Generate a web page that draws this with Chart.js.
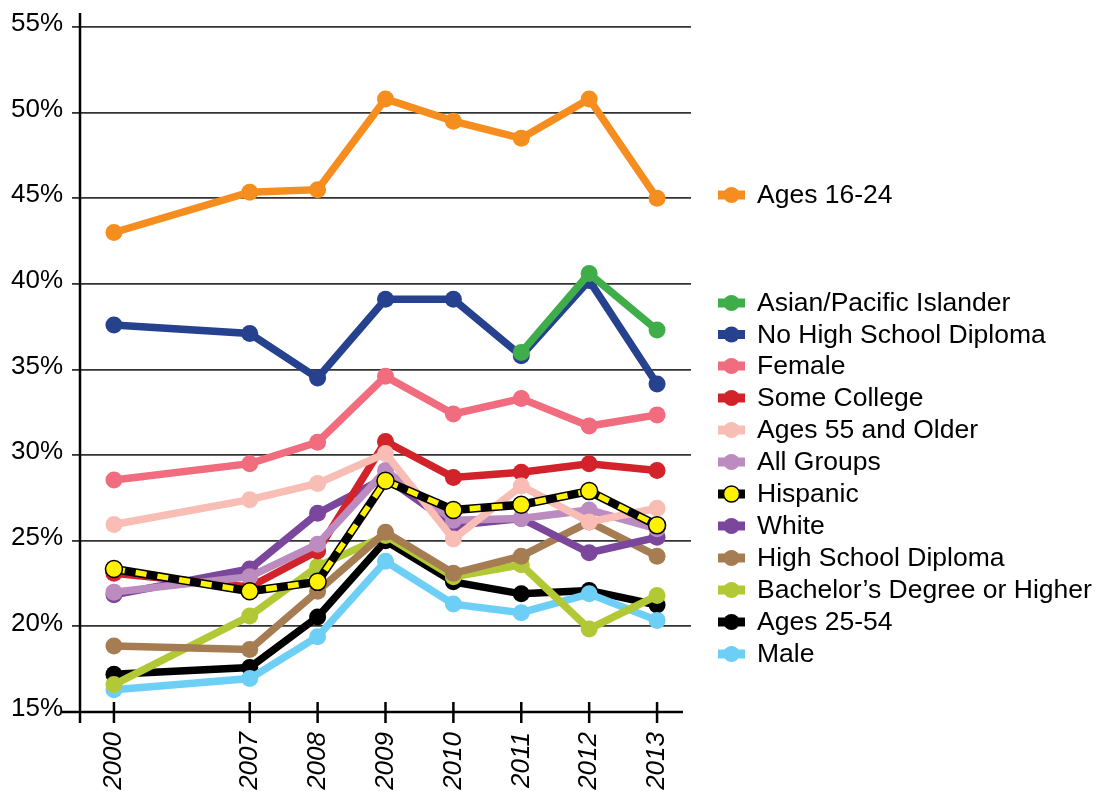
<!DOCTYPE html>
<html><head><meta charset="utf-8">
<script src="https://cdn.jsdelivr.net/npm/chart.js@4.4.1/dist/chart.umd.min.js"></script>
<style>html,body{margin:0;padding:0;background:#fff;overflow:hidden}#wrap{width:1097px;height:791px;position:relative}</style>
</head><body><div id="wrap"><canvas id="c" width="1097" height="791"></canvas></div>
<script>
// Categories (empty slot marks the gap between 2000 and 2007)
const years = ['2000', '', '2007', '2008', '2009', '2010', '2011', '2012', '2013'];
const yTickValues = [15, 20, 25, 30, 35, 40, 45, 50, 55];

// Series values (%)
const ages1624    = [43.0,  null, 45.35, 45.5,  50.8, 49.5, 48.5, 50.8, 45.0];
const asianPI     = [null,  null, null,  null,  null, null, 36.0, 40.6, 37.3];
const noHSDiploma = [37.6,  null, 37.1,  34.5,  39.1, 39.1, 35.8, 40.2, 34.15];
const female      = [28.55, null, 29.5,  30.75, 34.6, 32.4, 33.3, 31.7, 32.35];
const someCollege = [23.1,  null, 22.3,  24.4,  30.8, 28.7, 29.0, 29.5, 29.1];
const ages55      = [25.95, null, 27.4,  28.35, 30.1, 25.1, 28.2, 26.1, 26.9];
const allGroups   = [22.0,  null, 22.9,  24.8,  29.1, 26.2, 26.3, 26.8, 25.7];
const hispanic    = [23.35, null, 22.05, 22.6,  28.5, 26.8, 27.1, 27.9, 25.9];
const white       = [21.85, null, 23.35, 26.6,  28.7, 25.9, 26.3, 24.3, 25.2];
const hsDiploma   = [18.85, null, 18.65, 22.05, 25.5, 23.1, 24.1, 26.1, 24.1];
const bachelors   = [16.6,  null, 20.6,  23.5,  25.3, 22.9, 23.6, 19.85, 21.8];
const ages2554    = [17.2,  null, 17.6,  20.55, 25.0, 22.6, 21.9, 22.1, 21.25];
const male        = [16.3,  null, 16.95, 19.4,  23.8, 21.3, 20.8, 21.9, 20.35];

const seriesNames = ['Ages 16-24', 'Asian/Pacific Islander', 'No High School Diploma', 'Female',
  'Some College', 'Ages 55 and Older', 'All Groups', 'Hispanic', 'White', 'High School Diploma',
  'Bachelor\u2019s Degree or Higher', 'Ages 25-54', 'Male'];
const seriesData = [ages1624, asianPI, noHSDiploma, female, someCollege, ages55, allGroups,
  hispanic, white, hsDiploma, bachelors, ages2554, male];
const seriesColors = ['#F68E1F', '#3FAE4A', '#26418E', '#F06C7E', '#D2232A', '#F8BDB5', '#BC8BC0',
  '#FFF200', '#7A479C', '#A67C52', '#B3C835', '#000000', '#6DCFF6'];
// drawing order (lower = on top)
const seriesOrder = [3, 2, 4, 5, 8, 6, 7, 1, 9, 10, 11, 13, 12];

const FONT = "'Liberation Sans', Arial, sans-serif";

const datasets = [];
seriesNames.forEach((name, i) => {
  if (name === 'Hispanic') {
    datasets.push({
      label: 'Hispanic base', data: seriesData[i], borderColor: '#000', backgroundColor: '#000',
      borderWidth: 8.5, pointRadius: 0, pointHoverRadius: 0, spanGaps: true, order: 1.5, tension: 0
    });
    datasets.push({
      label: name, data: seriesData[i], borderColor: seriesColors[i], backgroundColor: seriesColors[i],
      borderWidth: 5.5, borderDash: [11, 11], pointRadius: 8.5, pointHoverRadius: 8.5,
      pointBackgroundColor: seriesColors[i], pointBorderColor: '#000', pointBorderWidth: 1.5,
      spanGaps: true, order: seriesOrder[i], tension: 0
    });
  } else {
    datasets.push({
      label: name, data: seriesData[i], borderColor: seriesColors[i], backgroundColor: seriesColors[i],
      borderWidth: 7.5, pointRadius: 8.5, pointHoverRadius: 8.5, pointBorderWidth: 0,
      pointBackgroundColor: seriesColors[i], spanGaps: true, order: seriesOrder[i], tension: 0
    });
  }
});

const legendRowsY = [195, 303, 334.5, 366, 398, 430, 462, 494, 526, 558, 590, 622, 654];

const decorPlugin = {
  id: 'decor',
  afterDraw(chart) {
    const { ctx, chartArea: ca, scales } = chart;
    const xs = scales.x;
    ctx.save();
    ctx.strokeStyle = '#000';
    ctx.lineWidth = 2.5;
    ctx.lineCap = 'butt';
    ctx.beginPath();
    ctx.moveTo(ca.left, ca.top - 14);
    ctx.lineTo(ca.left, ca.bottom + 11);
    ctx.moveTo(ca.left - 18, ca.bottom);
    ctx.lineTo(ca.right - 8, ca.bottom);
    years.forEach((lab, i) => {
      if (!lab) return;
      const px = xs.getPixelForTick(i);
      ctx.moveTo(px, ca.bottom - 10);
      ctx.lineTo(px, ca.bottom + 11);
    });
    ctx.stroke();

    // legend
    ctx.font = '26.5px ' + FONT;
    ctx.textBaseline = 'middle';
    ctx.textAlign = 'left';
    seriesNames.forEach((name, i) => {
      const y = legendRowsY[i];
      const col = seriesColors[i];
      const isHisp = name === 'Hispanic';
      ctx.strokeStyle = isHisp ? '#000' : col;
      ctx.lineWidth = 9;
      ctx.beginPath();
      ctx.moveTo(718, y);
      ctx.lineTo(745, y);
      ctx.stroke();
      ctx.beginPath();
      ctx.arc(731.5, y, 8, 0, Math.PI * 2);
      ctx.fillStyle = col;
      ctx.fill();
      if (isHisp) { ctx.lineWidth = 1.5; ctx.strokeStyle = '#000'; ctx.stroke(); }
      ctx.fillStyle = '#000';
      ctx.fillText(name, 757, y + 1);
    });
    ctx.restore();
  }
};

new Chart(document.getElementById('c'), {
  type: 'line',
  data: { labels: years, datasets },
  options: {
    responsive: false,
    animation: false,
    devicePixelRatio: 1,
    layout: { padding: { top: 27, right: 406, bottom: 0, left: 0 } },
    plugins: { legend: { display: false }, tooltip: { enabled: false } },
    scales: {
      x: {
        type: 'category',
        offset: true,
        grid: { display: false },
        border: { display: false },
        ticks: {
          autoSkip: false, maxRotation: 90, minRotation: 90, padding: 12,
          color: '#000', font: { family: FONT, size: 26, style: 'italic' }
        },
        afterFit(s) { s.height = 79; }
      },
      y: {
        min: 15, max: 55,
        afterBuildTicks(s) { s.ticks = yTickValues.map(v => ({ value: v })); },
        grid: {
          color: ctx => (ctx.tick && ctx.tick.value === 15) ? 'rgba(0,0,0,0)' : '#333333',
          lineWidth: 1.8, tickLength: 8
        },
        border: { display: false },
        ticks: {
          padding: 9, labelOffset: -3, color: '#000',
          font: { family: FONT, size: 26 },
          callback: v => v + '%'
        },
        afterFit(s) { s.width = 80; }
      }
    }
  },
  plugins: [decorPlugin]
});
</script>
</body></html>
